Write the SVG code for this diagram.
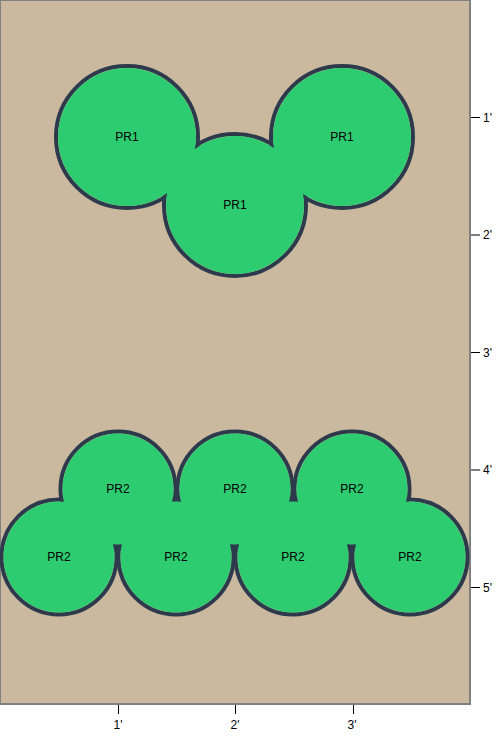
<svg xmlns="http://www.w3.org/2000/svg" width="500" height="750" viewBox="0 0 500 750">
<style>
.bed{fill:#cab89f;stroke:#808080;stroke-width:2}
.ol{fill:none;stroke:#2c3a4c;stroke-width:4}
.fl{fill:#2ecc71}
.lbl{font-family:"Liberation Sans",Arial,sans-serif;font-size:12px;fill:#000;text-anchor:middle;dominant-baseline:central}
.ax{font-family:"Liberation Sans",Arial,sans-serif;font-size:12px;fill:#000;dominant-baseline:central}
.tk{stroke:#000;stroke-width:1}
</style>
<rect class="bed" x="0" y="0" width="470" height="704"/>
<g id="axes">
<line class="tk" x1="471" y1="117.5" x2="480" y2="117.5"/>
<line class="tk" x1="471" y1="235" x2="480" y2="235"/>
<line class="tk" x1="471" y1="352.5" x2="480" y2="352.5"/>
<line class="tk" x1="471" y1="470" x2="480" y2="470"/>
<line class="tk" x1="471" y1="587.5" x2="480" y2="587.5"/>
<text class="ax" x="483" y="117.5">1'</text>
<text class="ax" x="483" y="235">2'</text>
<text class="ax" x="483" y="352.5">3'</text>
<text class="ax" x="483" y="470">4'</text>
<text class="ax" x="483" y="587.5">5'</text>
<line class="tk" x1="118.5" y1="705" x2="118.5" y2="714"/>
<line class="tk" x1="235.5" y1="705" x2="235.5" y2="714"/>
<line class="tk" x1="353.5" y1="705" x2="353.5" y2="714"/>
<text class="lbl" x="118" y="725">1'</text>
<text class="lbl" x="235" y="725">2'</text>
<text class="lbl" x="352" y="725">3'</text>
</g>
<g id="outlines">
<circle class="ol" cx="127" cy="137" r="71"/>
<circle class="ol" cx="342" cy="137" r="71"/>
<circle class="ol" cx="235" cy="205" r="71"/>
<circle class="ol" cx="118" cy="489" r="57.5"/>
<circle class="ol" cx="235" cy="489" r="57.5"/>
<circle class="ol" cx="352" cy="489" r="57.5"/>
<circle class="ol" cx="59" cy="557" r="57.5"/>
<circle class="ol" cx="176" cy="557" r="57.5"/>
<circle class="ol" cx="293" cy="557" r="57.5"/>
<circle class="ol" cx="410" cy="557" r="57.5"/>
</g>
<g id="pr1-a"><circle class="fl" cx="127" cy="137" r="69"/></g>
<g id="pr1-b"><circle class="fl" cx="342" cy="137" r="69"/></g>
<g id="pr1-c"><circle class="fl" cx="235" cy="205" r="69"/></g>
<g id="pr2-a"><circle class="fl" cx="118" cy="489" r="55.5"/></g>
<g id="pr2-b"><circle class="fl" cx="235" cy="489" r="55.5"/></g>
<g id="pr2-c"><circle class="fl" cx="352" cy="489" r="55.5"/></g>
<g id="pr2-d"><circle class="fl" cx="59" cy="557" r="55.5"/></g>
<g id="pr2-e"><circle class="fl" cx="176" cy="557" r="55.5"/></g>
<g id="pr2-f"><circle class="fl" cx="293" cy="557" r="55.5"/></g>
<g id="pr2-g"><circle class="fl" cx="410" cy="557" r="55.5"/></g>
<g id="labels">
<text class="lbl" x="127" y="137">PR1</text>
<text class="lbl" x="342" y="137">PR1</text>
<text class="lbl" x="235" y="205">PR1</text>
<text class="lbl" x="118" y="489">PR2</text>
<text class="lbl" x="235" y="489">PR2</text>
<text class="lbl" x="352" y="489">PR2</text>
<text class="lbl" x="59" y="557">PR2</text>
<text class="lbl" x="176" y="557">PR2</text>
<text class="lbl" x="293" y="557">PR2</text>
<text class="lbl" x="410" y="557">PR2</text>
</g>
</svg>
